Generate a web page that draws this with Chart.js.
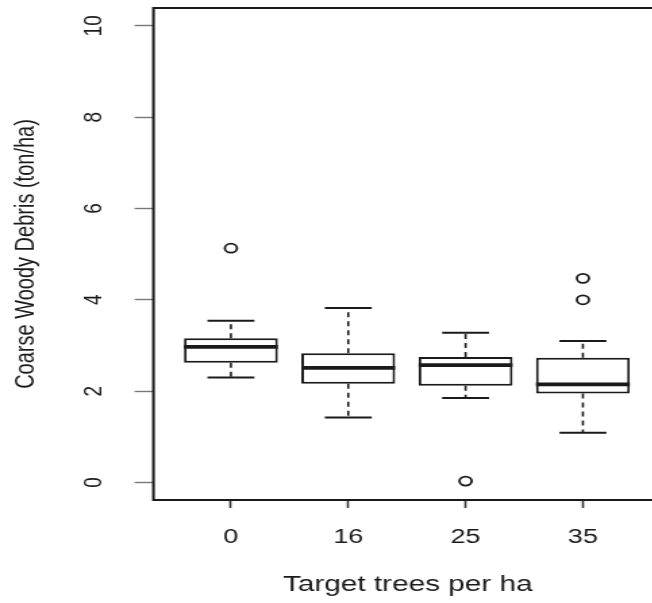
<!DOCTYPE html>
<html>
<head>
<meta charset="utf-8">
<script src="https://cdn.jsdelivr.net/npm/chart.js@4.4.1/dist/chart.umd.min.js"></script>
<style>
  body { margin: 0; background: #fff; }
  #wrap { width: 652px; height: 603px; overflow: hidden; }
</style>
</head>
<body>
<!-- the source picture is stretched sideways and cut off on the right,
     so draw narrow, widen with css and let the frame run past the edge -->
<div id="wrap">
  <canvas id="chart" width="510" height="603" style="width:688.5px;height:603px"></canvas>
</div>
<script>
// groups on the x axis
const categories = ['0', '16', '25', '35'];
// box statistics (ton/ha)
const whiskerLow = [2.30, 1.42, 1.85, 1.09];
const q1 = [2.62, 2.16, 2.12, 1.95];
const medians = [2.97, 2.51, 2.57, 2.15];
const q3 = [3.16, 2.83, 2.75, 2.73];
const whiskerHigh = [3.54, 3.82, 3.28, 3.10];
// outliers: group number (1..4) and value
const outlierGroup = [1, 3, 4, 4];
const outlierValue = [5.13, 0.03, 4.47, 4.00];
const yTicks = [0, 2, 4, 6, 8, 10];

const INK = '#1a1a1a';
const FONT = "'Liberation Sans', Arial, sans-serif";

// boxes as floating bars
const boxData = categories.map((c, i) => ({x: i + 1, y: [q1[i], q3[i]]}));

// median segments, null point breaks the line between groups
const medianData = [];
medians.forEach((m, i) => {
  medianData.push({x: i + 0.6, y: m}, {x: i + 1.4, y: m}, {x: i + 1.5, y: null});
});

// dashed whiskers
const whiskerData = [];
categories.forEach((c, i) => {
  whiskerData.push({x: i + 1, y: q3[i]}, {x: i + 1, y: whiskerHigh[i]}, {x: i + 1, y: null});
  whiskerData.push({x: i + 1, y: q1[i]}, {x: i + 1, y: whiskerLow[i]}, {x: i + 1, y: null});
});

// staples at the whisker ends
const capData = [];
categories.forEach((c, i) => {
  capData.push({x: i + 0.8, y: whiskerHigh[i]}, {x: i + 1.2, y: whiskerHigh[i]}, {x: i + 1.5, y: null});
  capData.push({x: i + 0.8, y: whiskerLow[i]}, {x: i + 1.2, y: whiskerLow[i]}, {x: i + 1.5, y: null});
});

const outlierData = outlierGroup.map((g, i) => ({x: g, y: outlierValue[i]}));

const segLine = {
  type: 'line',
  borderColor: INK,
  pointRadius: 0,
  spanGaps: false,
  tension: 0,
  fill: false
};

const data = {
  datasets: [
    {
      type: 'bar',
      label: 'box',
      data: boxData,
      backgroundColor: '#fff',
      borderColor: INK,
      borderWidth: 2,
      borderSkipped: false,
      barPercentage: 0.8,
      categoryPercentage: 1,
      order: 3
    },
    Object.assign({}, segLine, {label: 'whisker', data: whiskerData, borderWidth: 1.6, borderDash: [5, 4], order: 2}),
    Object.assign({}, segLine, {label: 'cap', data: capData, borderWidth: 2, order: 2}),
    Object.assign({}, segLine, {label: 'median', data: medianData, borderWidth: 3.8, order: 1}),
    {
      type: 'scatter',
      label: 'outlier',
      data: outlierData,
      pointStyle: 'circle',
      pointRadius: 4.5,
      pointBorderWidth: 1.8,
      pointBorderColor: INK,
      pointBackgroundColor: 'rgba(0,0,0,0)',
      order: 0
    }
  ]
};

// R style frame: left, top and bottom sides only (right side is off the picture)
const framePlugin = {
  id: 'frame',
  afterDraw(chart) {
    const {ctx, chartArea: a} = chart;
    ctx.save();
    ctx.beginPath();
    ctx.strokeStyle = INK;
    ctx.lineWidth = 2;
    ctx.moveTo(chart.width, a.top);
    ctx.lineTo(a.left, a.top);
    ctx.lineTo(a.left, a.bottom);
    ctx.lineTo(chart.width, a.bottom);
    ctx.stroke();
    ctx.restore();
  }
};

const config = {
  type: 'bar',
  data,
  plugins: [framePlugin],
  options: {
    responsive: false,
    animation: false,
    layout: { autoPadding: false, padding: { top: 8, left: 0, right: 20, bottom: 0 } },
    plugins: { legend: { display: false }, tooltip: { enabled: false } },
    scales: {
      x: {
        type: 'linear',
        position: 'bottom',
        min: 0.34,
        max: 4.674,
        offset: false,
        afterBuildTicks: (scale) => { scale.ticks = categories.map((c, i) => ({value: i + 1})); },
        afterFit: (scale) => { scale.height = 103; scale.paddingLeft = 0; scale.paddingRight = 0; },
        grid: { display: true, offset: false, drawOnChartArea: false, drawTicks: true, tickLength: 8, tickColor: '#333', tickWidth: 1.6 },
        border: { display: false },
        ticks: {
          padding: 17,
          color: INK,
          maxRotation: 0,
          font: { family: FONT, size: 20 },
          callback: (v) => categories[v - 1]
        },
        title: {
          display: true,
          text: 'Target trees per ha',
          color: INK,
          font: { family: FONT, size: 22 },
          padding: { top: 0, bottom: 5 }
        }
      },
      y: {
        type: 'linear',
        min: -0.384,
        max: 10.39,
        afterBuildTicks: (scale) => { scale.ticks = yTicks.map(v => ({value: v})); },
        afterFit: (scale) => { scale.width = 113.6; scale.paddingTop = 0; scale.paddingBottom = 0; },
        grid: { display: true, drawOnChartArea: false, drawTicks: true, tickLength: 14, tickColor: '#777', tickWidth: 1.4 },
        border: { display: false },
        ticks: {
          minRotation: 90,
          maxRotation: 90,
          crossAlign: 'center',
          padding: 19,
          color: INK,
          font: { family: FONT, size: 19 }
        },
        title: {
          display: true,
          text: 'Coarse Woody Debris (ton/ha)',
          color: INK,
          font: { family: FONT, size: 20 },
          padding: { top: 7, bottom: 0 }
        }
      }
    }
  }
};

const ctx = document.getElementById('chart');
const myChart = new Chart(ctx, config);
</script>
</body>
</html>
